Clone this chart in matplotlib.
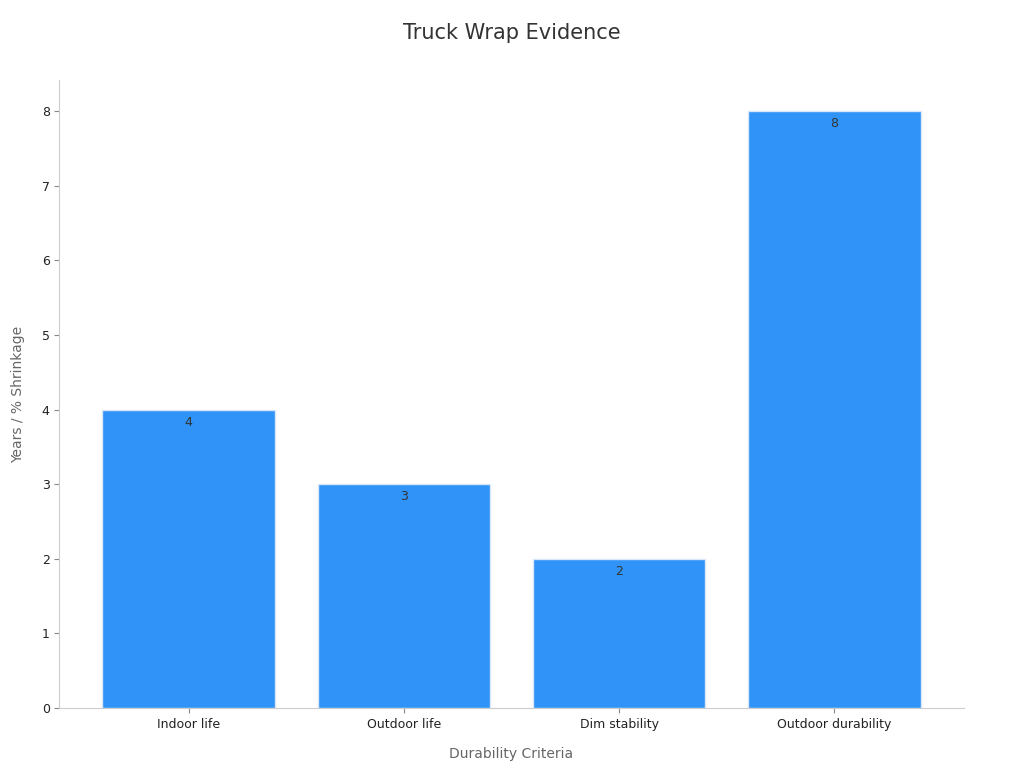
import matplotlib.pyplot as plt

categories = ["Indoor life", "Outdoor life", "Dim stability", "Outdoor durability"]
values = [4, 3, 2, 8]

fig = plt.figure(figsize=(10.24, 7.68), dpi=100)
ax = fig.add_axes([0.058, 0.078, 0.883, 0.818])
bars = ax.bar(range(len(values)), values, width=0.8, color="#2f93f8", edgecolor="#d8e6f5", linewidth=1)
for i, v in enumerate(values):
    ax.text(i, v - 0.08, str(v), ha="center", va="top", fontsize=9, color="#333333")
ax.set_xticks(range(len(values)))
ax.set_xticklabels(categories, fontsize=9, color="#222222")
ax.set_xlim(-0.6, 3.6)
ax.set_ylim(0, 8.42)
ax.set_yticks(range(9))
ax.tick_params(axis="y", labelsize=9, colors="#222222")
ax.tick_params(colors="#888888", labelcolor="#222222")
for s in ["top", "right"]:
    ax.spines[s].set_visible(False)
for s in ["left", "bottom"]:
    ax.spines[s].set_color("#cccccc")
ax.set_xlabel("Durability Criteria", fontsize=10, color="#666666", labelpad=12)
ax.set_ylabel("Years / % Shrinkage", fontsize=10, color="#666666", labelpad=12)
fig.suptitle("Truck Wrap Evidence", fontsize=15, color="#333333", y=0.97)
fig.savefig("out.png")
